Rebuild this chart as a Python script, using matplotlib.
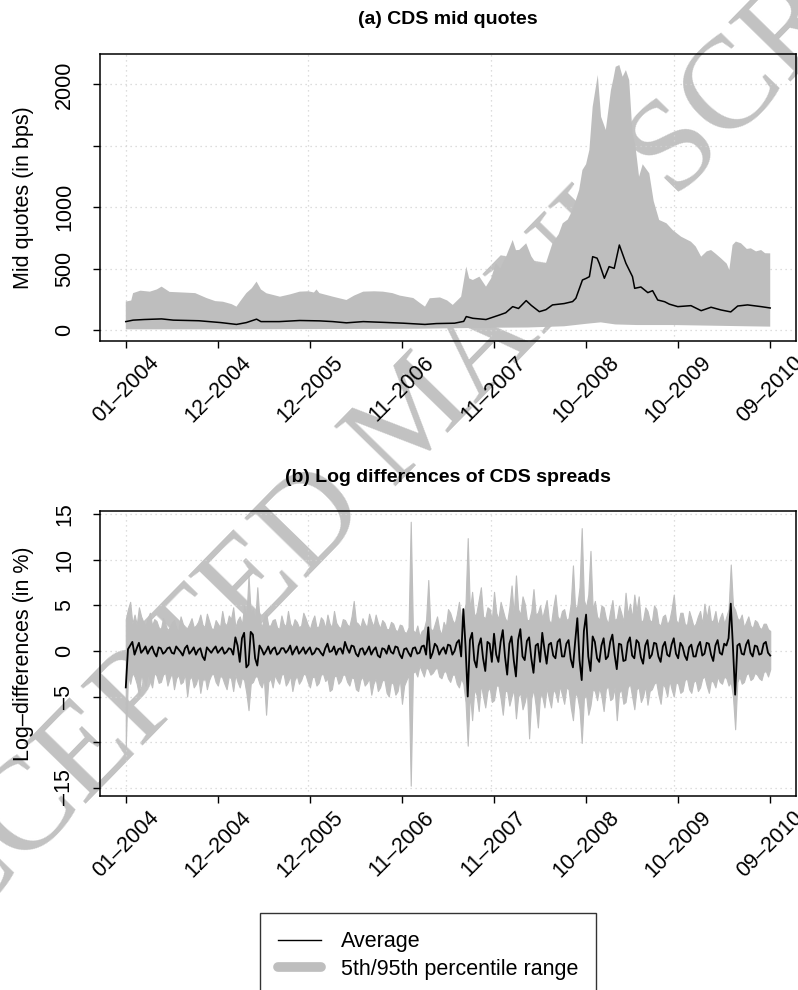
import numpy as np
import matplotlib
matplotlib.use('Agg')
import matplotlib.pyplot as plt
from matplotlib.lines import Line2D

plt.rcParams['font.family'] = ['Liberation Sans', 'DejaVu Sans']

# ---- x axis: trading-day index, labelled every 252 days
date_ticks = [0, 252, 504, 756, 1008, 1260, 1512, 1764]
date_labels = ['01–2004', '12–2004', '12–2005', '11–2006',
               '11–2007', '10–2008', '10–2009', '09–2010']

# ---- panel (a): CDS mid quotes (bps)
up_idx = [0, 15, 20, 40, 66, 85, 98, 120, 157, 190, 221, 245, 266, 290, 303, 315,
          330, 345, 358, 370, 385, 422, 450, 476, 500, 515, 522, 530, 567, 604,
          625, 650, 680, 704, 730, 750, 787, 805, 819, 832, 860, 880, 895, 918,
          932, 940, 950, 968, 986, 1000, 1013, 1025, 1041, 1059, 1068, 1077, 1096,
          1110, 1123, 1150, 1168, 1185, 1196, 1210, 1223, 1241, 1250, 1260, 1269,
          1278, 1292, 1301, 1314, 1328, 1335, 1341, 1351, 1360, 1369, 1378, 1387,
          1395, 1405, 1415, 1433, 1445, 1460, 1480, 1497, 1520, 1547, 1560, 1575,
          1590, 1602, 1615, 1629, 1645, 1652, 1661, 1670, 1684, 1700, 1711, 1725,
          1739, 1750, 1764]
up_val = [231, 240, 300, 320, 312, 330, 353, 310, 305, 300, 260, 235, 230, 210, 190, 240,
          300, 340, 394, 330, 299, 271, 290, 312, 315, 305, 330, 300, 271, 244,
          280, 312, 315, 312, 300, 280, 260, 220, 190, 258, 265, 240, 204, 271,
          516, 420, 407, 434, 353, 420, 543, 500, 597, 733, 650, 652, 706,
          600, 543, 543, 706, 780, 869, 900, 977, 1140, 1303, 1350, 1466,
          1818, 2077, 1737, 1629, 1954, 2050, 2144, 2158, 2063, 2117, 2036, 1601,
          1500, 1248, 1350, 1276, 1050, 896, 869, 814, 760, 719, 680, 597,
          640, 651, 620, 584, 540, 489, 692, 720, 706, 660, 665, 640,
          651, 625, 624]

mean_idx = [0, 20, 50, 98, 130, 200, 260, 303, 330, 358, 370, 420, 476, 530, 567,
            604, 650, 704, 760, 819, 850, 900, 925, 932, 950, 986, 1023, 1040, 1059,
            1075, 1096, 1110, 1132, 1150, 1168, 1200, 1223, 1232, 1250, 1260, 1269,
            1278, 1290, 1296, 1310, 1323, 1337, 1351, 1369, 1387, 1393, 1410, 1429,
            1442, 1456, 1475, 1488, 1511, 1547, 1575, 1602, 1629, 1656, 1675, 1702,
            1739, 1764]
mean_val = [68, 80, 85, 90, 80, 75, 60, 45, 60, 88, 68, 68, 77, 74, 68,
            58, 68, 62, 55, 45, 52, 55, 70, 109, 95, 85, 122, 140, 190,
            175, 239, 200, 149, 165, 204, 215, 231, 258, 407, 420, 434,
            597, 585, 543, 421, 516, 502, 692, 543, 434, 339, 350, 304,
            320, 244, 230, 210, 190, 198, 157, 185, 163, 147, 195, 204,
            190, 179]

lo_idx = [0, 300, 600, 800, 900, 1000, 1100, 1200, 1260, 1300, 1340, 1400, 1500,
          1600, 1700, 1764]
lo_val = [5, 5, 8, 10, 14, 18, 20, 30, 50, 62, 45, 40, 40, 35, 30, 27]

# ---- panel (b): log differences (%), every 6th trading day
step_b = 6
p95_b = [3.5, 4.6, 5.4, 3.0, 4.0, 2.9, 4.8, 3.8, 3.2, 2.7, 3.6, 4.2, 2.8, 3.5, 3.3, 2.6, 2.4, 3.6, 3.0, 2.3,
         2.6, 3.1, 3.4, 2.5, 2.2, 3.8, 3.0, 2.4, 2.5, 3.0, 3.6, 2.6, 2.8, 3.2, 4.0, 2.9, 2.6, 4.1, 3.3, 2.5,
         2.4, 3.4, 3.0, 2.6, 4.4, 3.1, 2.8, 3.9, 3.5, 4.8, 2.6, 3.4, 3.8, 2.9, 5.0, 3.6, 8.3, 4.0, 4.6, 3.2,
         7.0, 3.5, 2.6, 3.6, 4.2, 2.8, 2.8, 3.4, 3.5, 2.6, 2.4, 3.9, 3.0, 2.7, 4.4, 3.0, 2.6, 3.5, 3.2, 2.6,
         2.8, 4.2, 3.6, 2.9, 2.4, 3.3, 3.9, 2.6, 2.7, 3.7, 3.4, 2.5, 4.0, 3.0, 2.6, 4.4, 3.1, 2.7, 2.5, 3.5,
         3.4, 2.9, 2.7, 3.8, 5.5, 3.2, 3.0, 2.6, 3.6, 3.0, 2.6, 4.1, 3.3, 2.7, 4.0, 3.1, 2.5, 3.4, 3.1, 2.4,
         2.4, 3.2, 3.0, 2.3, 2.2, 2.9, 2.8, 2.1, 2.0, 2.6, 14.2, 2.3, 2.0, 2.8, 1.6, 2.2, 2.4, 3.4, 7.8, 2.5,
         2.2, 3.0, 3.8, 2.4, 1.8, 3.2, 2.6, 4.6, 4.2, 3.4, 3.0, 4.0, 5.4, 3.6, 4.0, 5.2, 12.4, 4.4, 6.5, 3.8,
         4.2, 5.6, 7.0, 3.8, 3.6, 4.8, 4.6, 3.4, 6.5, 4.2, 3.5, 5.4, 4.5, 3.6, 3.2, 4.8, 7.2, 4.0, 8.3, 4.6,
         4.0, 6.0, 5.2, 3.4, 3.4, 4.4, 6.8, 4.0, 4.2, 5.0, 3.6, 4.6, 5.6, 3.4, 3.0, 4.8, 6.2, 3.8, 3.4, 4.4,
         4.6, 3.4, 3.6, 5.2, 9.4, 4.6, 5.0, 7.0, 13.5, 5.6, 4.8, 6.2, 11.0, 4.6, 5.5, 3.8, 3.4, 5.0, 4.8, 3.6,
         3.0, 4.4, 5.6, 3.4, 3.6, 5.0, 4.2, 3.2, 6.4, 4.0, 5.2, 3.6, 6.2, 4.4, 6.0, 3.2, 3.4, 4.8, 4.4, 3.4,
         3.2, 5.0, 4.6, 3.0, 2.8, 3.8, 4.0, 2.9, 3.4, 4.6, 6.2, 3.4, 3.0, 4.2, 4.2, 3.0, 2.8, 4.4, 3.6, 2.7,
         3.0, 3.8, 4.4, 3.0, 5.2, 3.6, 5.0, 3.2, 3.4, 4.4, 2.8, 3.6, 4.2, 3.0, 3.8, 4.6, 9.5, 5.0, 4.5, 3.6,
         3.4, 4.0, 2.6, 3.2, 3.8, 2.8, 2.5, 3.4, 3.2, 2.6, 2.4, 3.0, 3.0, 2.4, 2.2]
p5_b = [-10.5, -2.6, -3.6, -2.4, -2.8, -3.6, -4.8, -2.6, -3.0, -3.8, -2.5, -3.2, -4.0, -2.4, -2.7, -3.5, -3.4, -2.6, -2.4, -3.8,
        -3.0, -2.4, -4.2, -3.0, -2.6, -3.6, -3.4, -2.5, -5.0, -3.1, -2.8, -4.0, -3.6, -2.7, -4.6, -3.2, -2.7, -4.2, -3.2, -2.6,
        -2.5, -3.4, -3.8, -2.7, -2.9, -3.6, -4.2, -2.8, -3.0, -4.4, -2.6, -3.4, -4.0, -2.9, -3.2, -4.6, -6.5, -3.6, -3.4, -2.8,
        -2.8, -3.6, -4.0, -3.0, -7.0, -3.4, -3.0, -4.0, -2.6, -3.2, -3.6, -2.6, -2.5, -3.8, -3.4, -2.7, -4.4, -3.2, -2.7, -3.6,
        -3.2, -2.5, -2.6, -3.4, -4.0, -2.9, -2.8, -3.8, -3.5, -2.6, -2.5, -3.3, -3.0, -4.4, -4.2, -2.8, -2.7, -3.6, -3.3, -2.6,
        -2.6, -3.4, -3.8, -2.9, -3.0, -4.2, -4.4, -3.2, -2.8, -3.8, -3.5, -3.0, -4.8, -3.6, -3.0, -4.4, -4.0, -3.2, -3.2, -4.6,
        -5.0, -3.4, -3.6, -4.8, -4.4, -3.0, -5.8, -3.8, -3.2, -2.6, -14.8, -2.4, -2.2, -2.8, -1.6, -2.2, -2.8, -1.8, -2.0, -2.6,
        -2.4, -2.0, -1.8, -2.8, -3.0, -2.3, -2.2, -3.0, -3.4, -2.6, -2.6, -3.6, -4.0, -3.0, -3.6, -5.6, -10.4, -4.6, -7.6, -4.2,
        -4.8, -6.6, -3.6, -5.0, -6.2, -4.4, -4.0, -5.6, -5.4, -3.8, -3.8, -5.2, -7.0, -4.4, -4.4, -6.0, -5.0, -4.2, -7.4, -5.0,
        -4.6, -6.4, -5.6, -4.4, -9.6, -5.2, -4.2, -6.0, -8.4, -4.8, -5.0, -6.2, -4.0, -5.2, -6.2, -4.2, -4.6, -5.6, -3.8, -4.8,
        -5.8, -4.0, -4.2, -6.2, -7.6, -4.6, -5.0, -6.4, -10.1, -5.2, -4.8, -7.0, -6.0, -4.2, -4.4, -5.4, -4.0, -5.0, -6.6, -4.2,
        -3.8, -5.4, -5.2, -4.0, -7.6, -4.6, -4.2, -5.8, -5.6, -4.0, -3.6, -5.0, -6.4, -4.2, -4.0, -5.6, -5.0, -3.8, -5.9, -4.4,
        -4.2, -3.6, -3.4, -4.8, -5.8, -3.6, -4.0, -5.0, -3.2, -4.2, -5.0, -3.4, -3.6, -4.6, -4.4, -3.2, -3.0, -4.2, -4.6, -3.4,
        -3.2, -4.4, -4.0, -3.0, -2.8, -3.8, -4.6, -3.2, -3.4, -4.0, -2.8, -3.4, -3.6, -2.8, -3.0, -3.8, -3.4, -5.0, -8.6, -3.4,
        -2.8, -3.6, -3.4, -2.6, -2.4, -3.2, -3.0, -2.4, -2.6, -3.0, -3.2, -2.3, -2.2, -2.8, -2.0]
mean_b = [-4.0, 0.2, 0.6, 1.0, -0.4, 0.3, 0.9, -0.2, 0.1, 0.5, -0.3, 0.2, 0.5, -0.2, -0.6, 0.4, 0.3, -0.3, -0.1, 0.3,
          0.4, -0.2, -0.3, 0.5, 0.2, -0.1, -0.5, 0.3, 0.6, -0.3, 0.0, 0.4, -0.4, 0.1, 0.3, -0.6, -1.0, 0.4, 0.1, -0.2,
          0.2, 0.5, -0.2, 0.1, 0.4, -0.3, -0.1, 0.3, 0.2, -0.4, 1.5, 0.6, -1.2, 1.4, 2.0, -1.8, -1.5, 2.1, 1.8, -0.8,
          -1.6, 0.6, 0.2, -0.4, 0.0, 0.5, -0.3, 0.2, 0.4, -0.4, -0.2, 0.3, 0.3, -0.2, 0.1, 0.6, -0.4, 0.1, 0.5, -0.3,
          0.0, 0.4, -0.3, 0.1, 0.4, -0.4, -0.2, 0.3, 0.2, -0.2, -0.5, 0.3, 0.8, -0.1, 0.0, 0.5, -0.4, 0.2, 0.3, -0.3,
          1.0, 0.3, -0.2, 0.6, 0.5, -0.3, -0.6, 0.2, 0.3, -0.4, 0.0, 0.5, -0.4, 0.1, 0.4, -0.5, -0.7, 0.3, 0.2, -0.3,
          0.6, -0.1, -0.3, 0.5, 0.4, -0.4, -0.8, 0.2, 0.3, -0.2, -0.6, 0.3, 0.4, -0.3, -0.2, 0.5, 0.6, -0.4, 2.6, -0.8,
          -0.2, 0.8, 0.5, -0.4, 0.1, 0.4, -0.3, 0.7, 0.6, -0.4, 0.0, 0.9, 1.2, -0.6, 4.6, 0.5, -5.0, 1.2, 2.0, -1.0,
          -1.8, 0.6, 1.4, -0.8, -2.2, 1.0, 0.8, -1.2, 1.9, -0.4, -1.2, 1.0, 2.3, -0.6, -2.6, 0.8, 1.6, -1.0, -2.8, 1.2,
          2.4, -0.6, -1.0, 1.1, 1.5, -0.8, -2.4, 0.6, 0.8, -1.2, 2.0, 0.2, -1.4, 0.7, 0.9, -0.5, -0.8, 1.0, 1.3, -0.6,
          -0.6, 0.8, 1.2, -0.9, -1.8, 1.0, 3.6, -1.0, -3.2, 2.2, 4.0, -0.6, -2.2, 1.6, 1.0, -0.8, -1.2, 0.6, 1.4, -0.9,
          -0.6, 1.0, 1.8, -0.4, -2.0, 0.8, 0.7, -1.1, -1.0, 0.9, 1.5, -0.5, -0.8, 1.2, 0.9, -0.7, -1.4, 0.6, 1.2, -0.8,
          -0.4, 0.9, 0.8, -0.6, -1.2, 0.5, 1.0, -0.4, -0.6, 0.7, 1.4, -0.3, -0.8, 0.9, 0.5, -0.5, -1.0, 0.4, 0.7, -0.6,
          -0.6, 0.5, 1.0, -0.5, -0.3, 0.9, 0.8, -0.4, -1.1, 0.6, 1.2, -0.2, -0.4, 0.8, 0.6, 1.4, 5.2, 0.4, -4.8, 0.6,
          0.8, -0.3, -0.4, 0.7, 1.2, -0.2, -0.6, 0.6, 0.5, -0.4, -0.3, 0.8, 1.0, -0.2, -0.5]

band_col = '#bebebe'
grid_col = '#d3d3d3'
fs = 15.5

fig = plt.figure(figsize=(7.98, 9.9), dpi=100)

# watermark behind the plots
fig.text(418 / 798, 1 - 418 / 990, 'ACCEPTED MANUSCRIPT', fontsize=95,
         family=['Liberation Serif', 'DejaVu Serif'], color='#c2c2c2',
         rotation=45.7, ha='center', va='center', rotation_mode='anchor', zorder=-5)

ax1 = fig.add_axes([100 / 798, 1 - 341 / 990, 696 / 798, 287 / 990])
ax2 = fig.add_axes([100 / 798, 1 - 796 / 990, 696 / 798, 285 / 990])

xlim = (-0.04 * 1764, 1.04 * 1764)


def style(ax, yticks, ylabels, ylabel, title):
    ax.patch.set_visible(False)
    ax.set_xlim(*xlim)
    for v in [0, 500, 1000, 1500]:
        ax.axvline(v, color=grid_col, lw=0.9, ls=(0, (1, 3)), zorder=0.5)
    for v in yticks:
        ax.axhline(v, color=grid_col, lw=0.9, ls=(0, (1, 3)), zorder=0.5)
    ax.set_xticks(date_ticks)
    ax.set_xticklabels(date_labels, rotation=45, ha='center', fontsize=fs)
    ax.set_yticks(yticks)
    ax.set_yticklabels(ylabels, rotation=90, va='center', fontsize=fs)
    ax.tick_params(axis='x', length=5, width=1, pad=3)
    ax.tick_params(axis='y', length=5, width=1, pad=13)
    for s in ax.spines.values():
        s.set_linewidth(1.1)
    ax.set_ylabel(ylabel, fontsize=fs)
    ax.yaxis.set_label_coords((34 - 100) / 696, 0.5)
    ax.text(0.5, 1 + 34 / 287, title, transform=ax.transAxes, ha='center',
            va='center', fontsize=14, fontweight='bold')


# panel (a)
ax1.fill(np.r_[up_idx, lo_idx[::-1]], np.r_[up_val, lo_val[::-1]],
         color=band_col, lw=0, zorder=1)
ax1.plot(mean_idx, mean_val, color='black', lw=1.1, zorder=3)
ax1.set_ylim(-90, 2248)
style(ax1, [0, 500, 1000, 1500, 2000], ['0', '500', '1000', '', '2000'],
      'Mid quotes (in bps)', '(a) CDS mid quotes')

# panel (b)
obs_b = np.arange(len(mean_b)) * step_b
ax2.fill_between(obs_b, p5_b, p95_b, color=band_col, lw=0.8, edgecolor=band_col, zorder=1)
ax2.plot(obs_b, mean_b, color='black', lw=1.3, zorder=3)
ax2.set_ylim(-15.93, 15.38)
style(ax2, [-15, -10, -5, 0, 5, 10, 15], ['–15', '', '–5', '0', '5', '10', '15'],
      'Log–differences (in %)', '(b) Log differences of CDS spreads')

handles = [Line2D([], [], color='black', lw=1),
           Line2D([], [], color=band_col, lw=7, solid_capstyle='round')]
leg = fig.legend(handles, ['Average', '5th/95th percentile range'],
                 loc='upper left', bbox_to_anchor=(260 / 798, 1 - 913 / 990),
                 fontsize=fs, frameon=True, fancybox=False, edgecolor='black',
                 handlelength=2.0, handletextpad=0.9, borderpad=0.85,
                 labelspacing=0.3, borderaxespad=0)
leg.get_frame().set_linewidth(1.0)

fig.savefig('out.png', dpi=100)
